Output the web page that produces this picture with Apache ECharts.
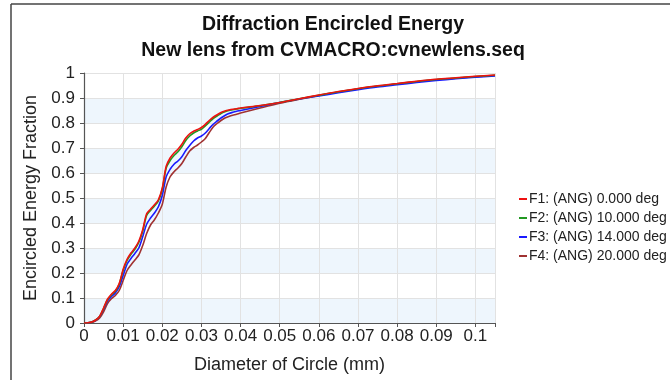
<!DOCTYPE html>
<html lang="en">
<head>
    <meta charset="UTF-8">
    <title>Diffraction Encircled Energy</title>
    <style>
        html, body { margin: 0; padding: 0; background: #fff; }
        #app { width: 670px; height: 380px; }
    </style>
</head>
<body>
    <div id="app"></div>
    <script src="https://cdn.jsdelivr.net/npm/echarts@6.0.0/dist/echarts.min.js"></script>
    <script>
        // diameter of circle (mm)
        var diam = [0, 0.001, 0.002, 0.003, 0.004, 0.005, 0.006, 0.007, 0.008, 0.009,
            0.010, 0.011, 0.012, 0.013, 0.014, 0.015, 0.016, 0.017, 0.018, 0.019,
            0.020, 0.021, 0.022, 0.023, 0.024, 0.025, 0.026, 0.027, 0.028, 0.029,
            0.030, 0.031, 0.032, 0.033, 0.034, 0.035, 0.036, 0.037, 0.038, 0.039,
            0.040, 0.045, 0.050, 0.055, 0.060, 0.065, 0.070, 0.075, 0.080, 0.085,
            0.090, 0.095, 0.100, 0.105]

        var names = ['F1: (ANG) 0.000 deg', 'F2: (ANG) 10.000 deg', 'F3: (ANG) 14.000 deg', 'F4: (ANG) 20.000 deg']
        var colors = ['#ee1111', '#229922', '#1a1aff', '#a03232']

        var f1 = [0, 0.001, 0.004, 0.012, 0.027, 0.06, 0.095, 0.115, 0.13, 0.158,
            0.215, 0.255, 0.28, 0.30, 0.327, 0.373, 0.437, 0.455, 0.473, 0.493,
            0.54, 0.627, 0.66, 0.68, 0.695, 0.715, 0.74, 0.757, 0.767, 0.774,
            0.782, 0.795, 0.81, 0.823, 0.833, 0.842, 0.848, 0.852, 0.855, 0.857,
            0.86, 0.87, 0.882, 0.897, 0.912, 0.926, 0.938, 0.949, 0.958, 0.967,
            0.975, 0.981, 0.987, 0.992]
        var f2 = [0, 0.001, 0.004, 0.012, 0.026, 0.058, 0.093, 0.112, 0.127, 0.155,
            0.21, 0.25, 0.275, 0.295, 0.322, 0.367, 0.43, 0.45, 0.468, 0.488,
            0.535, 0.62, 0.65, 0.67, 0.685, 0.705, 0.73, 0.748, 0.76, 0.768,
            0.775, 0.788, 0.803, 0.818, 0.828, 0.838, 0.845, 0.85, 0.853, 0.856,
            0.859, 0.869, 0.882, 0.897, 0.911, 0.925, 0.937, 0.948, 0.957, 0.966,
            0.974, 0.98, 0.986, 0.991]
        var f3 = [0, 0.001, 0.004, 0.011, 0.025, 0.055, 0.088, 0.106, 0.12, 0.145,
            0.19, 0.235, 0.258, 0.278, 0.30, 0.345, 0.395, 0.42, 0.44, 0.465,
            0.51, 0.585, 0.615, 0.635, 0.648, 0.665, 0.69, 0.71, 0.728, 0.74,
            0.748, 0.76, 0.778, 0.795, 0.808, 0.82, 0.83, 0.838, 0.843, 0.847,
            0.85, 0.866, 0.882, 0.896, 0.908, 0.921, 0.933, 0.944, 0.953, 0.962,
            0.97, 0.977, 0.983, 0.988]
        var f4 = [0, 0.001, 0.003, 0.009, 0.02, 0.045, 0.078, 0.097, 0.11, 0.13,
            0.17, 0.21, 0.232, 0.252, 0.272, 0.31, 0.358, 0.392, 0.413, 0.44,
            0.475, 0.545, 0.585, 0.605, 0.62, 0.638, 0.664, 0.688, 0.702, 0.712,
            0.724, 0.738, 0.762, 0.784, 0.798, 0.81, 0.82, 0.826, 0.831, 0.835,
            0.84, 0.86, 0.879, 0.895, 0.91, 0.924, 0.936, 0.947, 0.956, 0.965,
            0.973, 0.979, 0.985, 0.99]
        var values = [f1, f2, f3, f4]

        var font = "'Liberation Sans', Arial, sans-serif"
        var chart = echarts.init(document.getElementById('app'))

        var series = values.map(function (vals, i) {
            return {
                name: names[i],
                type: 'line',
                showSymbol: false,
                smooth: 0.3,
                z: 10 - i,  // F1 drawn on top
                lineStyle: { width: 1.6, color: colors[i] },
                itemStyle: { color: colors[i] },
                data: diam.map(function (d, j) { return [d, vals[j]] })
            }
        })

        var option = {
            animation: false,
            textStyle: { fontFamily: font },
            title: {
                text: 'Diffraction Encircled Energy\nNew lens from CVMACRO:cvnewlens.seq',
                left: 328,
                top: 7,
                textAlign: 'center',
                textStyle: { fontSize: 19.5, fontWeight: 'bold', color: '#111', lineHeight: 26, fontFamily: font }
            },
            legend: {
                orient: 'vertical',
                left: 514,
                top: 187,
                itemWidth: 8,
                itemHeight: 2,
                itemGap: 5,
                icon: 'rect',
                textStyle: { fontSize: 14, color: '#222', fontFamily: font, padding: [0, 0, 0, -3] },
                data: names
            },
            grid: { left: 84, right: 175, top: 73, bottom: 57, containLabel: false },
            xAxis: {
                type: 'value',
                min: 0,
                max: 0.105,
                interval: 0.01,
                name: 'Diameter of Circle (mm)',
                nameLocation: 'middle',
                nameGap: 33,
                nameTextStyle: { fontSize: 18, color: '#222', fontFamily: font },
                axisLine: { lineStyle: { color: '#555', width: 1.2 } },
                axisTick: { length: 4, lineStyle: { color: '#555' } },
                axisLabel: {
                    fontSize: 17, color: '#222', margin: 5, fontFamily: font,
                    formatter: function (v) {
                        var k = v * 100
                        return Math.abs(k - Math.round(k)) < 1e-6 ? String(+v.toFixed(2)) : ''
                    }
                },
                splitLine: { show: true, lineStyle: { color: '#e2e2e2' } }
            },
            yAxis: {
                type: 'value',
                min: 0,
                max: 1,
                interval: 0.1,
                name: 'Encircled Energy Fraction',
                nameLocation: 'middle',
                nameGap: 43,
                nameTextStyle: { fontSize: 18, color: '#222', fontFamily: font },
                axisLine: { show: true, lineStyle: { color: '#555', width: 1.2 } },
                axisTick: { show: true, length: 4, lineStyle: { color: '#555' } },
                axisLabel: { fontSize: 17, color: '#222', margin: 9, fontFamily: font },
                splitLine: { show: true, lineStyle: { color: '#e2e2e2' } },
                splitArea: { show: true, areaStyle: { color: ['#eef6fd', '#ffffff'] } }
            },
            graphic: [
                { type: 'line', shape: { x1: 11, y1: 4, x2: 670, y2: 4 }, style: { stroke: '#444', lineWidth: 1.5 } },
                { type: 'line', shape: { x1: 11, y1: 4, x2: 11, y2: 380 }, style: { stroke: '#444', lineWidth: 1.5 } }
            ],
            series: series
        }
        chart.setOption(option)
    </script>
</body>
</html>
